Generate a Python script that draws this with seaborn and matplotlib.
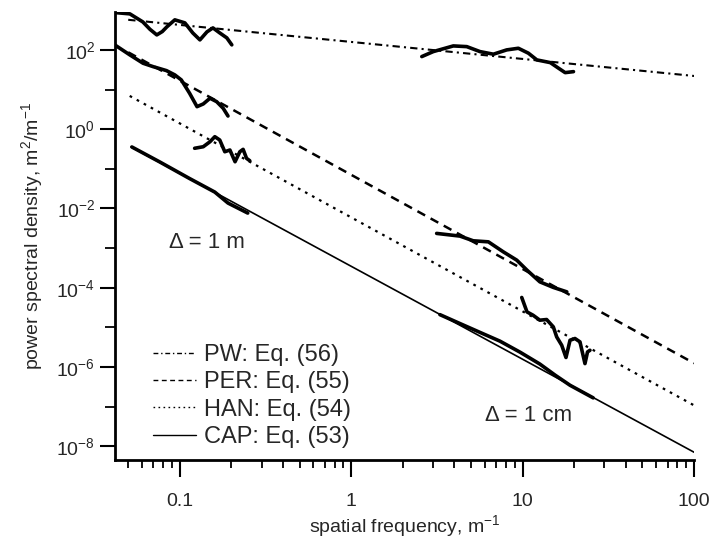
import numpy as np
import pandas as pd
import seaborn as sns
import matplotlib.pyplot as plt
from matplotlib.ticker import FixedLocator, LogLocator, LogFormatterSciNotation, NullFormatter

# theoretical spectra (end points of straight lines on log-log axes)
pw_x = [0.05, 100]
pw_y = [575, 22]
per_x = [0.05, 100]
per_y = [87, 1.25e-6]
han_x = [0.051, 100]
han_y = [6.9, 1.08e-7]
cap_x = [0.052, 100]
cap_y = [0.356, 7.1e-9]

# measured spectra, delta = 1 m
pw_m_x = [0.0417, 0.0511, 0.0608, 0.0670, 0.0734, 0.0790, 0.0840, 0.0935, 0.107, 0.119, 0.131,
          0.144, 0.156, 0.171, 0.188, 0.201]
pw_m_y = [875, 811, 509, 330, 239, 290, 381, 573, 481, 268, 179, 285, 359, 268, 201, 134]
per_m_x = [0.0417, 0.0511, 0.0610, 0.0699, 0.0836, 0.0935, 0.102, 0.114, 0.126, 0.137, 0.150, 0.164, 0.179, 0.191]
per_m_y = [134, 74.8, 46.1, 37.8, 30.0, 23.4, 17.5, 8.07, 3.70, 4.33, 6.03, 4.95, 3.37, 2.15]
han_m_x = [0.122, 0.137, 0.150, 0.160, 0.171, 0.183, 0.196, 0.210, 0.224, 0.234, 0.245, 0.256]
han_m_y = [0.330, 0.361, 0.483, 0.647, 0.533, 0.270, 0.298, 0.151, 0.270, 0.310, 0.184, 0.160]
cap_m_x = [0.0525, 0.0764, 0.114, 0.160, 0.191, 0.224, 0.249]
cap_m_y = [0.356, 0.149, 0.0569, 0.0259, 0.0137, 0.00966, 0.00766]

# measured spectra, delta = 1 cm
pw_c_x = [2.58, 3.01, 3.94, 4.72, 5.64, 6.75, 8.07, 9.44, 10.8, 12.1, 14.5, 16.2, 17.7, 19.8]
pw_c_y = [67.8, 90.6, 126, 121, 90.6, 77.9, 100, 110, 82.6, 55.9, 47.8, 34.5, 26.7, 28.3]
per_c_x = [3.15, 4.31, 5.15, 6.31, 7.71, 9.24, 10.6, 12.6, 15.1, 18.1]
per_c_y = [2.35e-3, 2.01e-3, 1.53e-3, 1.44e-3, 8.06e-4, 4.97e-4, 2.78e-4, 1.41e-4, 1.02e-4, 7.88e-5]
han_c_x = [9.88, 10.6, 11.5, 12.6, 13.8, 15.1, 15.8, 16.9, 17.9, 18.9, 20.2, 21.6, 23.1, 23.9, 24.7]
han_c_y = [5.69e-5, 2.46e-5, 2.03e-5, 1.52e-5, 1.58e-5, 1.03e-5, 5.75e-6, 3.55e-6, 1.74e-6,
           4.75e-6, 5.25e-6, 4.31e-6, 1.22e-6, 2.40e-6, 2.65e-6]
cap_c_x = [3.29, 4.31, 5.64, 7.38, 9.66, 12.6, 15.5, 18.9, 25.8]
cap_c_y = [2.10e-5, 1.25e-5, 7.48e-6, 4.49e-6, 2.37e-6, 1.19e-6, 6.21e-7, 3.47e-7, 1.67e-7]

y_major = [1e-8, 1e-6, 1e-4, 1e-2, 1e0, 1e2]
y_minor = [1e-7, 1e-5, 1e-3, 1e-1, 1e1]

sns.set_style("ticks")
plt.rcParams['font.family'] = ['Liberation Sans', 'DejaVu Sans']
plt.rcParams['mathtext.fontset'] = 'custom'
plt.rcParams['mathtext.rm'] = 'Liberation Sans'
plt.rcParams['mathtext.it'] = 'Liberation Sans:italic'

f, ax = plt.subplots(figsize=(7.26, 5.40), dpi=100)
f.subplots_adjust(left=0.158, right=0.956, bottom=0.148, top=0.978)

theory = [
    (pw_x, pw_y, "PW: Eq. (56)", (3.5, 2, 1, 2), 1.5),
    (per_x, per_y, "PER: Eq. (55)", (3.5, 2.5), 1.8),
    (han_x, han_y, "HAN: Eq. (54)", (1.2, 2.4), 1.6),
    (cap_x, cap_y, "CAP: Eq. (53)", None, 1.2),
]
handles = []
for xs, ys, lab, dash, lw in theory:
    sns.lineplot(x=xs, y=ys, color="black", linewidth=lw, ax=ax, sort=False)
    ln = ax.lines[-1]
    if dash is not None:
        ln.set_dashes(dash)
    ln.set_label(lab)
    handles.append(ln)

measured = [(pw_m_x, pw_m_y), (per_m_x, per_m_y), (han_m_x, han_m_y), (cap_m_x, cap_m_y),
            (pw_c_x, pw_c_y), (per_c_x, per_c_y), (han_c_x, han_c_y), (cap_c_x, cap_c_y)]
for xs, ys in measured:
    sns.lineplot(x=xs, y=ys, color="black", linewidth=2.6, ax=ax, sort=False)

ax.set_xscale("log")
ax.set_yscale("log")
ax.set_xlim(0.0417, 100)
ax.set_ylim(4.5e-9, 910)

ax.yaxis.set_major_locator(FixedLocator(y_major))
ax.yaxis.set_minor_locator(FixedLocator(y_minor))
ax.yaxis.set_major_formatter(LogFormatterSciNotation())
ax.yaxis.set_minor_formatter(NullFormatter())
ax.xaxis.set_minor_locator(LogLocator(base=10, subs=np.arange(2, 10)))
ax.xaxis.set_minor_formatter(NullFormatter())
ax.set_xticks([0.1, 1, 10, 100])
ax.set_xticklabels(["0.1", "1", "10", "100"])

ax.tick_params(which="both", direction="out", labelsize=14, color="black")
ax.tick_params(axis="x", which="major", length=12, width=1.5, pad=12)
ax.tick_params(axis="x", which="minor", length=6, width=1.3)
ax.tick_params(axis="y", which="major", length=11, width=1.5, pad=3)
ax.tick_params(axis="y", which="minor", length=7, width=1.3)
for s in ["top", "right"]:
    ax.spines[s].set_visible(False)
for s in ["left", "bottom"]:
    ax.spines[s].set_linewidth(2)
    ax.spines[s].set_color("black")

ax.set_xlabel(r"spatial frequency, m$^{-1}$", fontsize=14, labelpad=2)
ax.set_ylabel(r"power spectral density, m$^2$/m$^{-1}$", fontsize=14, labelpad=8)

ax.text(0.144, 1.4e-3, "Δ = 1 m", fontsize=16, ha="center", va="center")
ax.text(10.9, 6e-8, "Δ = 1 cm", fontsize=16, ha="center", va="center")

leg = ax.legend(handles=handles, frameon=False, loc="lower left", bbox_to_anchor=(0.03, -0.02),
                fontsize=17, handlelength=1.8, handletextpad=0.35, labelspacing=0.22)
for ln in leg.get_lines():
    ln.set_linewidth(1.0)

f.savefig("out.png", dpi=100)
